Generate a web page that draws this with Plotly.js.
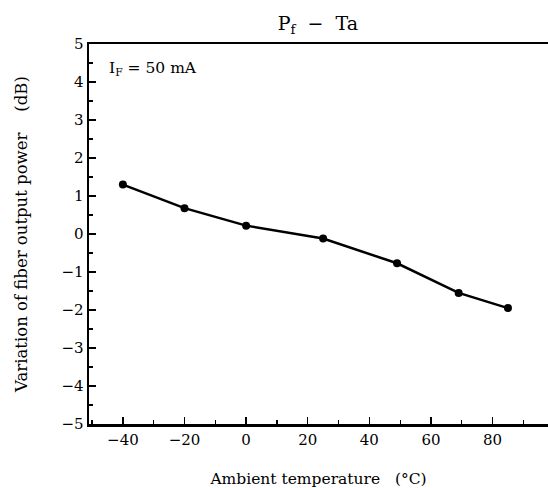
<!DOCTYPE html>
<html><head><meta charset="utf-8">
<script src="https://cdn.plot.ly/plotly-3.0.1.min.js"></script>
<style>body{margin:0;background:#fff}#c{width:548px;height:488px}</style>
</head><body><div id="c"></div>
<script>
const temperature = [-40, -20, 0, 25, 49, 69, 85];
const powerVariation = [1.3, 0.68, 0.22, -0.12, -0.77, -1.55, -1.95];
const titleText = "P<sub>f</sub>  \u2212  Ta";
const xTitle = "Ambient temperature   (\u00B0C)";
const yTitle = "Variation of fiber output power    (dB)";
const noteText = "I<sub>F</sub> = 50 mA";
const xTicks = [-40, -20, 0, 20, 40, 60, 80];
const yTicks = [-5, -4, -3, -2, -1, 0, 1, 2, 3, 4, 5];

const fam = "DejaVu Serif, Liberation Serif, serif";
Plotly.newPlot("c", [{
  x: temperature, y: powerVariation, type: "scatter", mode: "lines+markers",
  line: {color: "#000", width: 2.5}, marker: {color: "#000", size: 8}
}], {
  width: 548, height: 488,
  margin: {l: 89, r: 0, t: 44, b: 64},
  paper_bgcolor: "#fff", plot_bgcolor: "#fff",
  font: {family: fam, color: "#000", size: 15}, showlegend: false,
  title: {text: titleText, x: 0.58, xanchor: "center", y: 0.953, yanchor: "middle", font: {family: fam, size: 19, color: "#000"}},
  xaxis: {range: [-51, 98], tickvals: xTicks, ticks: "inside", ticklen: 7, tickwidth: 1.5, tickcolor: "#000",
    tickfont: {family: fam, size: 15, color: "#000"},
    minor: {dtick: 10, tick0: 0, ticks: "inside", ticklen: 4, tickwidth: 1.2, tickcolor: "#000"},
    showline: true, linewidth: 2.5, linecolor: "#000", mirror: true, showgrid: false, zeroline: false,
    title: {text: xTitle, standoff: 27, font: {family: fam, size: 15.5, color: "#000"}}},
  yaxis: {range: [-5, 5], tickvals: yTicks, ticks: "inside", ticklen: 7, tickwidth: 1.5, tickcolor: "#000",
    tickfont: {family: fam, size: 15, color: "#000"},
    minor: {dtick: 0.5, tick0: 0, ticks: "inside", ticklen: 4, tickwidth: 1.2, tickcolor: "#000"},
    showline: true, linewidth: 2.5, linecolor: "#000", showgrid: false, zeroline: false,
    title: {text: yTitle, standoff: 30, font: {family: fam, size: 16.5, color: "#000"}}},
  annotations: [{text: noteText, xref: "paper", yref: "paper", x: 0.04, y: 0.935, xanchor: "left", yanchor: "middle",
    showarrow: false, font: {family: fam, size: 15.5, color: "#000"}}]
}, {displayModeBar: false, staticPlot: true});
</script></body></html>
